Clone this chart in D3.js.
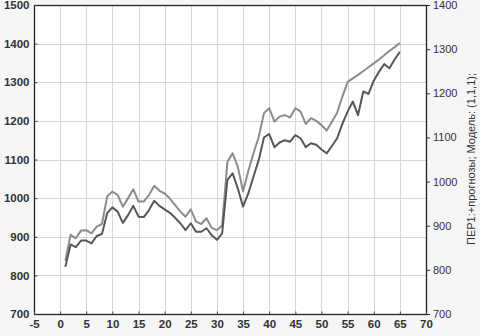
<!DOCTYPE html>
<html>
<head>
<meta charset="utf-8">
<script src="https://cdn.jsdelivr.net/npm/d3@7"></script>
<style>
  body { margin: 0; background: #f6f6f6; }
  svg { display: block; font-family: "Liberation Sans", Arial, sans-serif; }
</style>
</head>
<body>
<svg id="chart" width="480" height="336"></svg>
<script>
var x_ticks = [-5, 0, 5, 10, 15, 20, 25, 30, 35, 40, 45, 50, 55, 60, 65, 70];
var left_ticks = [700, 800, 900, 1000, 1100, 1200, 1300, 1400, 1500];
var right_ticks = [700, 800, 900, 1000, 1100, 1200, 1300, 1400];
var axis_title = "ПЕР1:+прогнозы; Модель: (1,1,1);";

/* periods 1..65 */
var periods = d3.range(1, 66);

/* upper (light) line */
var upper = [838, 905, 896, 916, 917, 909, 926, 933, 1004, 1017,
             1008, 978, 1000, 1023, 991, 991, 1008, 1032, 1019, 1012,
             999, 982, 965, 952, 971, 939, 933, 948, 923, 917,
             930, 1094, 1116, 1081, 1017, 1070, 1116, 1159, 1220, 1233,
             1198, 1211, 1215, 1209, 1233, 1224, 1192, 1207, 1200, 1189,
             1175, 1198, 1221, 1263, 1301, 1310, 1319, 1329, 1339, 1349,
             1359, 1370, 1381, 1391, 1402];

/* lower (dark) line */
var lower = [822, 880, 873, 890, 890, 883, 902, 907, 961, 976,
             965, 936, 956, 980, 952, 951, 969, 993, 980, 971,
             962, 949, 935, 917, 935, 913, 913, 922, 904, 892,
             909, 1047, 1064, 1025, 978, 1012, 1056, 1099, 1157, 1166,
             1132, 1144, 1150, 1146, 1163, 1155, 1132, 1142, 1138, 1126,
             1116, 1135, 1155, 1192, 1224, 1250, 1215, 1276, 1270, 1304,
             1327, 1347, 1336, 1359, 1379];

var plot_left = 34, plot_right = 426, plot_top = 5, plot_bottom = 314;

function draw_chart() {
    var svg = d3.select("svg#chart");

    var x = d3.scaleLinear().domain([-5, 70]).range([plot_left, plot_right]);
    var y = d3.scaleLinear().domain([700, 1500]).range([plot_bottom, plot_top]);
    var y2 = d3.scaleLinear().domain([700, 1400]).range([plot_bottom, plot_top]);

    svg.append("rect").attr("x", plot_left).attr("y", plot_top)
        .attr("width", plot_right - plot_left).attr("height", plot_bottom - plot_top)
        .attr("fill", "#fff");

    /* grid */
    var grid = svg.append("g").attr("stroke", "#d6d6d6").attr("stroke-width", 1);
    grid.selectAll("line.v").data(x_ticks).enter().append("line")
        .attr("x1", function (d) { return Math.round(x(d)) + 0.5; })
        .attr("x2", function (d) { return Math.round(x(d)) + 0.5; })
        .attr("y1", plot_top).attr("y2", plot_bottom);
    grid.selectAll("line.h").data(left_ticks).enter().append("line")
        .attr("y1", function (d) { return Math.round(y(d)) + 0.5; })
        .attr("y2", function (d) { return Math.round(y(d)) + 0.5; })
        .attr("x1", plot_left).attr("x2", plot_right);

    /* series */
    var line = d3.line()
        .x(function (d, i) { return x(periods[i]); })
        .y(function (d) { return y(d); });
    svg.append("path").datum(upper).attr("d", line)
        .attr("fill", "none").attr("stroke", "#8c8c8c").attr("stroke-width", 2)
        .attr("stroke-linejoin", "round");
    svg.append("path").datum(lower).attr("d", line)
        .attr("fill", "none").attr("stroke", "#575757").attr("stroke-width", 2)
        .attr("stroke-linejoin", "round");

    /* frame */
    svg.append("rect").attr("x", plot_left + 0.5).attr("y", plot_top + 0.5)
        .attr("width", plot_right - plot_left).attr("height", plot_bottom - plot_top)
        .attr("fill", "none").attr("stroke", "#222").attr("stroke-width", 1.3);

    /* axes: small inward ticks on left and bottom, outward on right */
    var fmt = function (d) { return String(d); };
    var ax = svg.append("g").attr("transform", "translate(0," + (plot_bottom + 0.5) + ")")
        .call(d3.axisBottom(x).tickValues(x_ticks).tickFormat(fmt).tickSize(-3).tickPadding(5));
    var ay = svg.append("g").attr("transform", "translate(" + (plot_left + 0.5) + ",0)")
        .call(d3.axisLeft(y).tickValues(left_ticks).tickFormat(fmt).tickSize(-3).tickPadding(5));
    var ay2 = svg.append("g").attr("transform", "translate(" + (plot_right + 1) + ",0)")
        .call(d3.axisRight(y2).tickValues(right_ticks).tickFormat(fmt).tickSize(3).tickPadding(3));

    [ax, ay].forEach(function (g) {
        g.select(".domain").remove();
        g.selectAll("line").attr("stroke", "#444");
        g.selectAll("text").attr("font-size", 11.5).attr("font-weight", "bold")
            .attr("fill", "#333").attr("font-family", "Liberation Sans, Arial, sans-serif");
    });
    ay2.select(".domain").remove();
    ay2.selectAll("line").attr("stroke", "#333");
    ay2.selectAll("text").attr("font-size", 11).attr("fill", "#333")
        .attr("font-family", "Liberation Sans, Arial, sans-serif");

    svg.append("text")
        .attr("transform", "translate(475,159) rotate(-90)")
        .attr("text-anchor", "middle")
        .attr("font-size", 11).attr("fill", "#333")
        .text(axis_title);
}

window.onload = function () {
    draw_chart();
};
</script>
</body>
</html>
